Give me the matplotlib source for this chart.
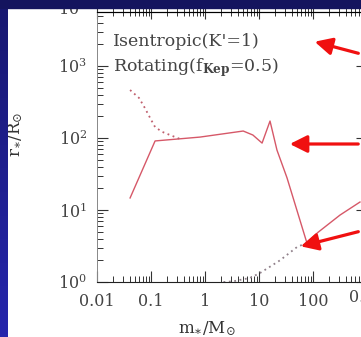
import matplotlib.pyplot as plt
import matplotlib.ticker as mticker
import numpy as np
from matplotlib.patches import Rectangle, FancyArrowPatch
from matplotlib.colors import LinearSegmentedColormap

plt.rcParams['font.family'] = 'DejaVu Serif'
plt.rcParams['mathtext.fontset'] = 'dejavuserif'

# Rotating protostar (f_Kep = 0.5), solid line
rot_mass = [0.041, 0.119, 0.81, 5.1, 7.7, 11.4, 16, 21.5, 33, 77, 124, 316, 741]
rot_radius = [14.7, 91, 103, 125, 110, 85, 172, 68, 28, 3.5, 4.9, 8.5, 12.9]

# Isentropic (K'=1), dotted line - two visible pieces
ise_mass_hi = [0.041, 0.06, 0.077, 0.1, 0.119, 0.16, 0.225, 0.344]
ise_radius_hi = [464, 360, 261, 180, 142, 122, 110, 97]
ise_mass_lo = [2.2, 3.3, 6.8, 10.4, 24.5, 50.6, 77]
ise_radius_lo = [1.0, 1.02, 1.14, 1.33, 2.0, 3.06, 3.5]

x_ticks = [0.01, 0.1, 1, 10, 100, 1000]
x_ticklabels = ['0.01', '0.1', '1', '10', '100', '']

W, H = 361, 337
fig = plt.figure(figsize=(W / 100, H / 100), dpi=100)
fig.patch.set_facecolor('white')

# axes box: spine x 97..367 px, y 12..282 px (runs past the right edge like the crop)
ax = fig.add_axes([97 / W, 1 - 282 / H, 270 / W, 270 / H])
ax.set_xscale('log')
ax.set_yscale('log')
ax.set_xlim(0.01, 1000)
ax.set_ylim(1, 10 ** 3.75)

ax.plot(rot_mass, rot_radius, color='#d65868', lw=1.0)
ax.plot(ise_mass_hi, ise_radius_hi, color='#c0606e', lw=1.3, linestyle=(0, (1, 2)))
ax.plot(ise_mass_lo, ise_radius_lo, color='#90808a', lw=1.3, linestyle=(0, (1, 2)))

ax.set_xticks(x_ticks)
ax.set_xticklabels(x_ticklabels)
ax.yaxis.set_major_locator(mticker.LogLocator(base=10, numticks=10))
ax.yaxis.set_minor_locator(mticker.LogLocator(base=10, subs=np.arange(2, 10), numticks=10))
ax.xaxis.set_minor_locator(mticker.LogLocator(base=10, subs=np.arange(2, 10), numticks=10))
ax.yaxis.set_minor_formatter(mticker.NullFormatter())
ax.xaxis.set_minor_formatter(mticker.NullFormatter())

ax.tick_params(which='both', direction='in', colors='#333333', labelcolor='#444444',
               labelsize=11.5, right=True, top=False)
ax.tick_params(which='major', length=8, width=0.8)
ax.tick_params(which='minor', length=4.5, width=0.7)
ax.tick_params(axis='y', pad=7)
ax.tick_params(axis='x', pad=8)

top = ax.secondary_xaxis('top')
top.set_xticks(x_ticks)
top.xaxis.set_minor_locator(mticker.LogLocator(base=10, subs=np.arange(2, 10), numticks=10))
top.tick_params(which='both', direction='inout', labeltop=False, colors='#333333')
top.tick_params(which='major', length=10, width=0.8)
top.tick_params(which='minor', length=6, width=0.7)

for side in ['left', 'right']:
    ax.spines[side].set_color('#888888')
    ax.spines[side].set_linewidth(0.7)
ax.spines['bottom'].set_color('#222222')
top.spines['top'].set_color('#222222')

ax.set_xlabel(r'm$_{\ast}$/M$_{\odot}$', fontsize=12, color='#333333')
ax.set_ylabel(r'r$_{\ast}$/R$_{\odot}$', fontsize=12, color='#333333')
ax.xaxis.set_label_coords(0.407, -0.14)
ax.yaxis.set_label_coords(-0.267, 0.545)

ax.text(0.059, 0.889, "Isentropic(K'=1)", transform=ax.transAxes, fontsize=12.5,
        color='#444444', va='center', ha='left')
ax.text(0.059, 0.796, r'Rotating(f$_{\mathbf{Kep}}$=0.5)', transform=ax.transAxes,
        fontsize=12.5, color='#444444', va='center', ha='left')

# neighbouring panel leftovers: its "0.01" label and the label of the panel above
fig.text(367 / W, 1 - 297 / H, '0.01', fontsize=11.5, color='#444444', ha='center', va='center')
fig.text(72 / W, 1 - 10 / H, r'$\mathdefault{10^{0}}$', fontsize=11.5, color='#444444',
         ha='center', va='center')

# red pointer arrows
arrows = [((361, 54), (312, 41)), ((361, 144), (287, 144)), ((361, 231), (298, 247))]
for (x0, y0), (x1, y1) in arrows:
    fig.add_artist(FancyArrowPatch(
        (x0 / W, 1 - y0 / H), (x1 / W, 1 - y1 / H), transform=fig.transFigure,
        arrowstyle='-|>,head_length=0.8,head_width=0.4', mutation_scale=13,
        color='#f01010', lw=2.3, zorder=20))

# slide background strips
grad = np.linspace(0, 1, 100).reshape(-1, 1)
strip = fig.add_axes([0, 0, 8 / W, 1], zorder=30)
strip.imshow(grad, aspect='auto', extent=[0, 1, 0, 1],
             cmap=LinearSegmentedColormap.from_list('s', ['#181870', '#2626ac']))
strip.axis('off')
fig.add_artist(Rectangle((0, 1 - 8 / H), 1, 8 / H, transform=fig.transFigure,
                         color='#14145e', zorder=40))

fig.savefig('out.png', dpi=100)
